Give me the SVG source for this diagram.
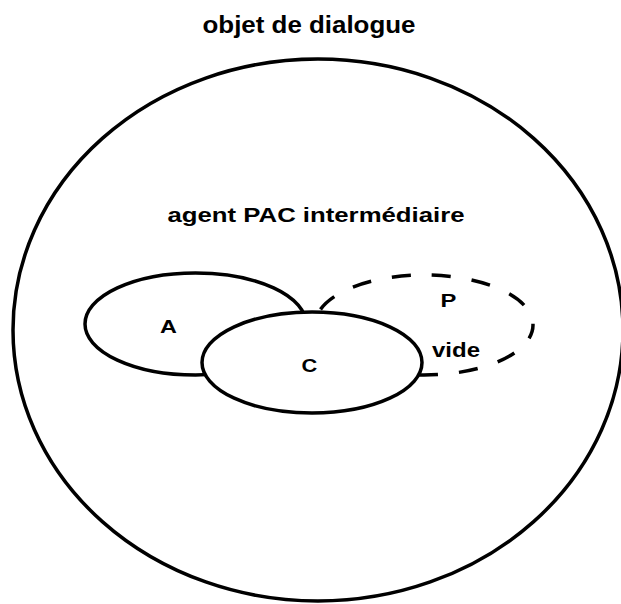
<svg xmlns="http://www.w3.org/2000/svg" width="621" height="604" viewBox="0 0 621 604">
<style>
.shape{fill:none;stroke:#000;stroke-width:3.5}
.lbl{font-family:"Liberation Sans",Arial,sans-serif;font-weight:bold;fill:#000;text-anchor:middle}
</style>
<rect width="621" height="604" fill="#fff"/>
<g id="objet">
<ellipse class="shape" cx="318" cy="330" rx="305" ry="271"/>
<text class="lbl" x="309" y="33" font-size="24" textLength="213" lengthAdjust="spacingAndGlyphs">objet de dialogue</text>
</g>
<g id="agent">
<text class="lbl" x="316" y="222" font-size="21" textLength="297" lengthAdjust="spacingAndGlyphs">agent PAC intermédiaire</text>
</g>
<g id="A">
<ellipse class="shape" cx="195.5" cy="324" rx="110.5" ry="51"/>
<text class="lbl" font-size="18" transform="translate(168.5 333) scale(1.3 1)">A</text>
</g>
<g id="P">
<ellipse class="shape" cx="424" cy="325" rx="109" ry="50" stroke-dasharray="19 21" stroke-dashoffset="5"/>
<text class="lbl" font-size="19" transform="translate(448.5 307) scale(1.25 1)">P</text>
<text class="lbl" x="456" y="357" font-size="20" textLength="48" lengthAdjust="spacingAndGlyphs">vide</text>
</g>
<g id="C">
<ellipse cx="312" cy="362.5" rx="110" ry="50.5" fill="#fff" stroke="#000" stroke-width="3.5"/>
<text class="lbl" font-size="19" transform="translate(309.5 372) scale(1.15 1)">C</text>
</g>
<g id="connectors"/>
</svg>
